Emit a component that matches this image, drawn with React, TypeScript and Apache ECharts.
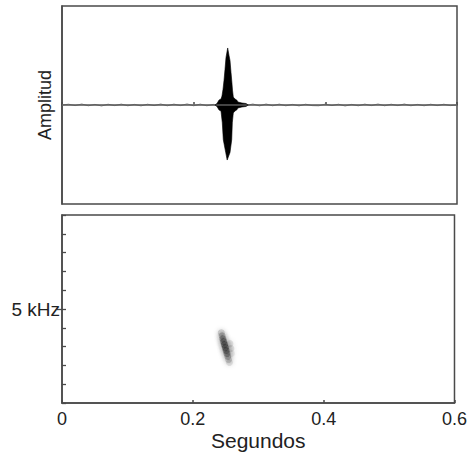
import React, { useEffect, useRef } from "react";
import * as echarts from "echarts";

// X axis (seconds)
const xTicks = [0, 0.2, 0.4, 0.6];

// Waveform: baseline noise (time in s, amplitude)
const noiseTimes = [
  0.0, 0.01, 0.02, 0.03, 0.04, 0.05, 0.06, 0.07, 0.08, 0.09, 0.1, 0.11, 0.12, 0.13, 0.14, 0.15,
  0.16, 0.17, 0.18, 0.19, 0.2, 0.21, 0.22, 0.23, 0.2324,
];
const noiseAmps = [
  0, 0.008, -0.006, 0.01, -0.008, 0.006, -0.01, 0.008, -0.006, 0.009, -0.008, 0.006, -0.009, 0.008,
  -0.006, 0.01, -0.008, 0.009, -0.006, 0.011, -0.008, 0.009, -0.008, 0.006, 0,
];
const noiseTimes2 = [
  0.283, 0.29, 0.3, 0.31, 0.32, 0.33, 0.34, 0.35, 0.36, 0.37, 0.38, 0.39, 0.4, 0.41, 0.42, 0.43,
  0.44, 0.45, 0.46, 0.47, 0.48, 0.49, 0.5, 0.51, 0.52, 0.53, 0.54, 0.55, 0.56, 0.57, 0.58, 0.59, 0.6,
];
const noiseAmps2 = [
  0, 0.01, -0.009, 0.01, -0.008, 0.009, -0.008, 0.006, -0.009, 0.008, -0.006, -0.008, 0.009, -0.006,
  0.008, -0.01, 0.006, -0.008, 0.009, -0.006, 0.01, -0.008, 0.008, -0.006, 0.01, -0.008, 0.006,
  -0.008, 0.008, -0.006, 0.008, -0.006, 0,
];

// Waveform: call envelope, upper lobe
const upperTimes = [
  0.2324, 0.2354, 0.2385, 0.2415, 0.243, 0.2446, 0.2461, 0.2476, 0.2491, 0.2517, 0.2537, 0.2552,
  0.2567, 0.2578, 0.259, 0.2602, 0.2628, 0.2654, 0.2673, 0.2734, 0.2795, 0.283,
];
const upperAmps = [
  0, 0.015, 0.05, 0.06, 0.09, 0.16, 0.25, 0.36, 0.48, 0.576, 0.5, 0.45, 0.33, 0.25, 0.15, 0.08,
  0.06, 0.05, 0.03, 0.02, 0.015, 0,
];
// Waveform: call envelope, lower lobe
const lowerTimes = [
  0.2324, 0.2354, 0.2385, 0.2415, 0.2435, 0.245, 0.2487, 0.2509, 0.2552, 0.2578, 0.2587, 0.2602,
  0.2628, 0.2654, 0.2673, 0.2734, 0.2795, 0.283,
];
const lowerAmps = [
  0, -0.015, -0.05, -0.06, -0.18, -0.35, -0.48, -0.556, -0.48, -0.35, -0.18, -0.08, -0.06, -0.05,
  -0.03, -0.02, -0.015, 0,
];

// Spectrogram blob (time s, frequency kHz, darkness 0..1)
const specTimes = [
  0.2435, 0.2447, 0.2459, 0.2471, 0.2484, 0.2497, 0.2509, 0.2522, 0.2534, 0.2546, 0.256, 0.2567,
  0.2582, 0.259,
];
const specFreqs = [
  3.737, 3.579, 3.421, 3.263, 3.105, 2.947, 2.789, 2.632, 2.474, 2.316, 2.158, 3.158, 2.895, 2.632,
];
const specLevels = [0.25, 0.4, 0.55, 0.65, 0.7, 0.7, 0.65, 0.55, 0.4, 0.28, 0.15, 0.15, 0.15, 0.1];

// Frequency axis (kHz)
const freqMin = 0;
const freqMax = 10;
const freqLabelValue = 5;

const FONT = "Liberation Sans, Arial, sans-serif";
const FRAME = "#4a4a4a";

export default function App() {
  const ref = useRef<HTMLDivElement>(null);

  useEffect(() => {
    if (!ref.current) return;
    const chart = echarts.init(ref.current, null, { renderer: "svg" });

    const zip = (a: number[], b: number[]) => a.map((v, i) => [v, b[i]]);

    const option: any = {
      animation: false,
      backgroundColor: "#fff",
      grid: [
        { left: 62, top: 6, width: 395, height: 198, show: true, borderColor: FRAME, borderWidth: 1.5 },
        { left: 62, top: 215, width: 395, height: 190, show: true, borderColor: FRAME, borderWidth: 1.5 },
      ],
      xAxis: [
        {
          type: "value",
          gridIndex: 0,
          min: xTicks[0],
          max: xTicks[xTicks.length - 1],
          interval: 0.2,
          axisLine: { show: true, lineStyle: { color: FRAME, width: 1.5 } },
          axisTick: { show: true, inside: true, length: 3, lineStyle: { color: FRAME, width: 1.5 } },
          axisLabel: { show: false },
          splitLine: { show: false },
        },
        {
          type: "value",
          gridIndex: 1,
          min: xTicks[0],
          max: xTicks[xTicks.length - 1],
          interval: 0.2,
          name: "Segundos",
          nameLocation: "middle",
          nameGap: 27,
          nameTextStyle: { fontFamily: FONT, fontSize: 21, color: "#222" },
          axisLine: { show: true, lineStyle: { color: FRAME, width: 1.5 } },
          axisTick: { show: true, inside: true, length: 3, lineStyle: { color: FRAME, width: 1.5 } },
          axisLabel: { show: true, fontFamily: FONT, fontSize: 18, color: "#222", margin: 7 },
          splitLine: { show: false },
        },
      ],
      yAxis: [
        {
          type: "value",
          gridIndex: 0,
          min: -1,
          max: 1,
          name: "Amplitud",
          nameLocation: "middle",
          nameGap: 8,
          nameTextStyle: { fontFamily: FONT, fontSize: 18, color: "#222" },
          axisLine: { show: true, lineStyle: { color: FRAME, width: 1.5 } },
          axisTick: { show: false },
          axisLabel: { show: false },
          splitLine: { show: false },
        },
        {
          type: "value",
          gridIndex: 1,
          min: freqMin,
          max: freqMax,
          interval: 1,
          axisLine: { show: true, lineStyle: { color: FRAME, width: 1.5 } },
          axisTick: { show: true, inside: true, length: 4, lineStyle: { color: FRAME, width: 1.3 } },
          axisLabel: { show: false },
          splitLine: { show: false },
        },
        {
          type: "value",
          gridIndex: 1,
          min: freqMin,
          max: freqMax,
          position: "left",
          axisLine: { show: false },
          axisTick: {
            show: true,
            customValues: [freqLabelValue],
            length: 5,
            lineStyle: { color: FRAME, width: 1.3 },
          },
          axisLabel: {
            show: true,
            customValues: [freqLabelValue],
            formatter: (v: number) => `${v} kHz`,
            fontFamily: FONT,
            fontSize: 19,
            color: "#222",
            margin: 2,
          },
          splitLine: { show: false },
        },
      ],
      series: [
        {
          type: "line",
          xAxisIndex: 0,
          yAxisIndex: 0,
          data: [
            [xTicks[0], 0],
            [xTicks[xTicks.length - 1], 0],
          ],
          symbol: "none",
          lineStyle: { color: "#888", width: 1 },
          silent: true,
        },
        {
          type: "line",
          xAxisIndex: 0,
          yAxisIndex: 0,
          data: zip(noiseTimes, noiseAmps),
          symbol: "none",
          lineStyle: { color: "#555", width: 0.7 },
          silent: true,
        },
        {
          type: "line",
          xAxisIndex: 0,
          yAxisIndex: 0,
          data: zip(noiseTimes2, noiseAmps2),
          symbol: "none",
          lineStyle: { color: "#555", width: 0.7 },
          silent: true,
        },
        {
          type: "line",
          xAxisIndex: 0,
          yAxisIndex: 0,
          data: zip(upperTimes, upperAmps),
          symbol: "none",
          lineStyle: { color: "#000", width: 0.6 },
          areaStyle: { color: "#000", opacity: 1 },
          silent: true,
        },
        {
          type: "line",
          xAxisIndex: 0,
          yAxisIndex: 0,
          data: zip(lowerTimes, lowerAmps),
          symbol: "none",
          lineStyle: { color: "#000", width: 0.6 },
          areaStyle: { color: "#000", opacity: 1 },
          silent: true,
        },
        {
          type: "scatter",
          xAxisIndex: 1,
          yAxisIndex: 1,
          symbol: "circle",
          symbolSize: 7,
          data: specTimes.map((t, i) => ({
            value: [t, specFreqs[i]],
            itemStyle: {
              color: "#222",
              opacity: specLevels[i] * 0.6,
              shadowBlur: 5,
              shadowColor: "#333",
            },
          })),
          silent: true,
        },
      ],
    };

    chart.setOption(option);
    return () => chart.dispose();
  }, []);

  return (
    <div
      ref={ref}
      style={{ position: "fixed", left: 0, top: 0, width: 470, height: 452 }}
    />
  );
}
